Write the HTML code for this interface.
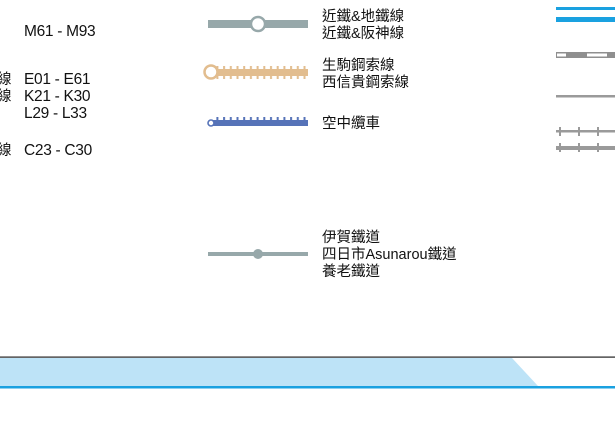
<!DOCTYPE html>
<html><head><meta charset="utf-8"><style>
body{margin:0;width:615px;height:433px;background:#fff;overflow:hidden;position:relative;font-family:"Liberation Sans","Noto Sans CJK TC",sans-serif;color:#111}
.t{position:absolute;font-size:14.5px;line-height:17px;white-space:nowrap}
.n{position:absolute;font-size:15.5px;line-height:17px;white-space:nowrap;letter-spacing:-0.3px}
</style></head><body>
<div class="n" style="left:24px;top:23px">M61 - M93</div>
<div class="n" style="left:24px;top:71px">E01 - E61<br>K21 - K30<br>L29 - L33</div>
<div class="n" style="left:24px;top:142px">C23 - C30</div>
<div class="t" style="left:-3px;top:72px">線<br>線</div>
<div class="t" style="left:-3px;top:143px">線</div>

<div class="t" style="left:322px;top:9px">近鐵&amp;地鐵線<br>近鐵&amp;阪神線</div>
<div class="t" style="left:322px;top:58px">生駒鋼索線<br>西信貴鋼索線</div>
<div class="t" style="left:322px;top:116px">空中纜車</div>
<div class="t" style="left:322px;top:230px">伊賀鐵道<br>四日市Asunarou鐵道<br>養老鐵道</div>

<svg width="615" height="433" style="position:absolute;left:0;top:0">
<defs>
<pattern id="tk" x="0" y="0" width="6.7" height="14" patternUnits="userSpaceOnUse"><rect x="2" y="0" width="2" height="14" fill="#e2bd8f"/></pattern>
<pattern id="tb" x="0" y="0" width="6.7" height="10" patternUnits="userSpaceOnUse"><rect x="2" y="0" width="2" height="10" fill="#5673b8"/></pattern>
</defs>
<rect x="208" y="20" width="100" height="8" fill="#97a8aa"/>
<circle cx="258" cy="24" r="7" fill="#fff" stroke="#97a8aa" stroke-width="2.5"/>

<rect x="214" y="69" width="94" height="7" fill="#e2bd8f"/>
<rect x="216" y="66" width="92" height="13" fill="url(#tk)"/>
<circle cx="211" cy="72" r="6.5" fill="#fff" stroke="#e2bd8f" stroke-width="2.5"/>

<rect x="212" y="120" width="96" height="6" fill="#5673b8"/>
<rect x="214" y="117" width="94" height="5" fill="url(#tb)"/>
<circle cx="211" cy="123" r="3" fill="#fff" stroke="#5673b8" stroke-width="1.6"/>

<rect x="208" y="252" width="100" height="4" fill="#97a8aa"/>
<circle cx="258" cy="254" r="5" fill="#97a8aa"/>

<rect x="556" y="7" width="59" height="3" fill="#1aa1e0"/>
<rect x="556" y="17" width="59" height="5" fill="#1aa1e0"/>
<rect x="556" y="52" width="59" height="6" fill="#8f8f8f"/>
<rect x="557" y="53.5" width="9" height="3" fill="#fff"/>
<rect x="587" y="53.5" width="20" height="3" fill="#fff"/>
<rect x="556" y="95" width="59" height="2.5" fill="#9a9a9a"/>
<rect x="556" y="130" width="59" height="2.5" fill="#9a9a9a"/>
<rect x="559" y="127" width="2" height="9" fill="#9a9a9a"/>
<rect x="578" y="127" width="2" height="9" fill="#9a9a9a"/>
<rect x="597" y="127" width="2" height="9" fill="#9a9a9a"/>
<rect x="556" y="146" width="59" height="4" fill="#9a9a9a"/>
<rect x="559" y="143" width="2" height="9" fill="#9a9a9a"/>
<rect x="578" y="143" width="2" height="9" fill="#9a9a9a"/>
<rect x="597" y="143" width="2" height="9" fill="#9a9a9a"/>

<polygon points="0,358 512,358 538,386 0,386" fill="#bde3f7"/>
<rect x="0" y="356.5" width="615" height="1.2" fill="#222"/>
<rect x="0" y="386" width="615" height="2.5" fill="#1aa1e0"/>
</svg>
</body></html>
